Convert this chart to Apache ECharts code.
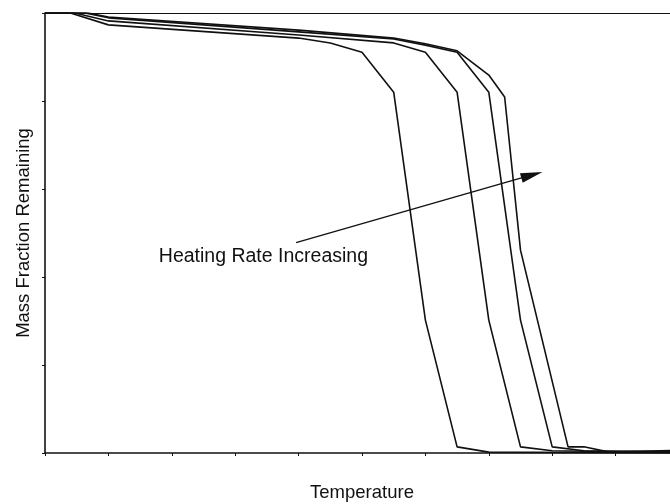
<!DOCTYPE html>
<html>
<head>
<meta charset="utf-8">
<script src="https://cdn.jsdelivr.net/npm/echarts@6/dist/echarts.min.js"></script>
<style>
html,body{margin:0;padding:0;background:#fff;}
#chart{width:670px;height:504px;}
</style>
</head>
<body>
<div id="chart"></div>
<script>
// Temperature (arbitrary units) and mass fraction remaining for four heating rates
const temp1 = [0, 0.4, 1.0, 4.0, 4.5, 5.0, 5.5, 6.0, 6.5, 7.0, 10];
const mass1 = [1.000, 1.000, 0.973, 0.943, 0.932, 0.911, 0.820, 0.302, 0.014, 0.002, 0.000];

const temp2 = [0, 0.47, 1.0, 4.0, 5.5, 6.0, 6.5, 7.0, 7.5, 8.0, 10];
const mass2 = [1.000, 1.000, 0.982, 0.950, 0.932, 0.911, 0.820, 0.302, 0.014, 0.005, 0.001];

const temp3 = [0, 0.63, 1.0, 4.0, 5.5, 6.0, 6.5, 7.0, 7.5, 8.0, 8.5, 10];
const mass3 = [1.000, 1.000, 0.989, 0.957, 0.941, 0.927, 0.911, 0.820, 0.302, 0.014, 0.005, 0.003];

const temp4 = [0, 0.68, 1.0, 4.0, 5.5, 6.0, 6.5, 7.0, 7.25, 7.5, 8.25, 8.5, 8.9, 10];
const mass4 = [1.000, 1.000, 0.991, 0.961, 0.943, 0.930, 0.914, 0.859, 0.809, 0.461, 0.014, 0.014, 0.002, 0.006];

const xTitle = 'Temperature';
const yTitle = 'Mass Fraction Remaining';
const noteText = 'Heating Rate Increasing';
const arrowFrom = [3.96, 0.478];
const arrowTo = [7.68, 0.632];

const pairs = (xs, ys) => xs.map((x, i) => [x, ys[i]]);
const curves = [pairs(temp1, mass1), pairs(temp2, mass2), pairs(temp3, mass3), pairs(temp4, mass4)];

const FONT = '"Liberation Sans", Arial, sans-serif';
const chart = echarts.init(document.getElementById('chart'), null, {renderer: 'canvas'});

const series = curves.map((d) => ({
  type: 'line',
  data: d,
  symbol: 'none',
  smooth: false,
  lineStyle: {color: '#111', width: 1.6},
  z: 3
}));
series.push({
  type: 'line',
  data: [],
  markLine: {
    silent: true,
    symbol: ['none', 'triangle'],
    symbolSize: [10, 22],
    lineStyle: {color: '#111', width: 1.4, type: 'solid'},
    label: {show: false},
    data: [[{coord: arrowFrom}, {coord: arrowTo}]]
  }
});

chart.setOption({
  animation: false,
  backgroundColor: '#fff',
  grid: {left: 45, top: 13, width: 634, height: 440, containLabel: false, outerBoundsMode: 'none'},
  xAxis: [{
    type: 'value', min: 0, max: 10, interval: 1,
    name: xTitle, nameLocation: 'middle', nameGap: 30,
    nameTextStyle: {fontFamily: FONT, fontSize: 18.5, color: '#111'},
    axisLine: {show: true, onZero: false, lineStyle: {color: '#111', width: 1.6}},
    axisTick: {show: true, length: 3, lineStyle: {color: '#111', width: 1}},
    axisLabel: {show: false},
    splitLine: {show: false}
  }, {
    type: 'value', position: 'top', min: 0, max: 10,
    axisLine: {show: true, onZero: false, lineStyle: {color: '#111', width: 1.2}},
    axisTick: {show: false}, axisLabel: {show: false}, splitLine: {show: false}
  }],
  yAxis: {
    type: 'value', min: 0, max: 1, interval: 0.2,
    name: yTitle, nameLocation: 'middle', nameGap: 12, nameRotate: 90,
    nameTextStyle: {fontFamily: FONT, fontSize: 18.5, color: '#111'},
    axisLine: {show: true, onZero: false, lineStyle: {color: '#111', width: 1.6}},
    axisTick: {show: true, length: 3, lineStyle: {color: '#111', width: 1}},
    axisLabel: {show: false},
    splitLine: {show: false}
  },
  graphic: [{
    type: 'text', x: 368, y: 257, z: 10,
    style: {text: noteText, font: '19.5px ' + FONT, fill: '#111', textAlign: 'right', textVerticalAlign: 'middle'}
  }],
  series: series
});
</script>
</body>
</html>
